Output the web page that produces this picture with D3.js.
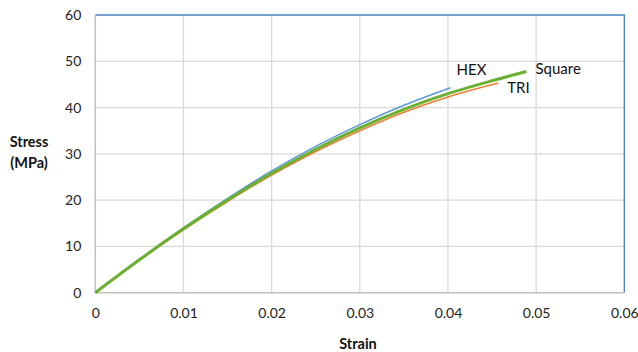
<!DOCTYPE html>
<html><head><meta charset="utf-8">
<script src="https://cdn.jsdelivr.net/npm/d3@7/dist/d3.min.js"></script>
<style>body{margin:0;background:#fff}svg{display:block}</style>
</head><body><svg id="c" width="638" height="352"></svg>
<script>
const xTicks = [0, 0.01, 0.02, 0.03, 0.04, 0.05, 0.06];
const yTicks = [0, 10, 20, 30, 40, 50, 60];
const hexStrain = [0, 0.005, 0.01, 0.015, 0.02, 0.025, 0.03, 0.035, 0.0403];
const hexStress = [0, 7.2, 14.0, 20.4, 26.3, 31.6, 36.3, 40.5, 44.3];
const triStrain = [0, 0.005, 0.01, 0.015, 0.02, 0.025, 0.03, 0.035, 0.04, 0.0457];
const triStress = [0, 7.0, 13.6, 19.7, 25.4, 30.5, 35.0, 39.0, 42.3, 45.3];
const sqStrain = [0, 0.005, 0.01, 0.015, 0.02, 0.025, 0.03, 0.035, 0.04, 0.045, 0.0489];
const sqStress = [0, 7.1, 13.8, 20.0, 25.8, 31.0, 35.6, 39.6, 43.0, 45.8, 47.8];
const seriesNames = ["HEX", "TRI", "Square"];

const svg = d3.select("#c");
const L = 95.3, R = 624.3, T = 15, B = 292.7;
const x = d3.scaleLinear().domain([0, 0.06]).range([L, R]);
const y = d3.scaleLinear().domain([0, 60]).range([B, T]);
const font = "Lato, 'Open Sans', sans-serif";

// gridlines
svg.append("g").selectAll("line").data(xTicks.slice(1, -1)).join("line")
  .attr("x1", d => x(d)).attr("x2", d => x(d)).attr("y1", T).attr("y2", B)
  .attr("stroke", "#d9d9d9").attr("stroke-width", 1.3);
svg.append("g").selectAll("line").data(yTicks.slice(1, -1)).join("line")
  .attr("x1", L).attr("x2", R).attr("y1", d => y(d)).attr("y2", d => y(d))
  .attr("stroke", "#d9d9d9").attr("stroke-width", 1.3);
// border top & right (blue)
svg.append("path").attr("d", `M${L},${T}H${R}V${B}`).attr("fill", "none")
  .attr("stroke", "#4a7fc0").attr("stroke-width", 1.3);
// left & bottom axes
svg.append("path").attr("d", `M${L},${T}V${B}H${R}`).attr("fill", "none")
  .attr("stroke", "#bfbfbf").attr("stroke-width", 1.5);

// tick labels
const yAxis = d3.axisLeft(y).tickValues(yTicks).tickSize(0).tickPadding(14).tickFormat(d3.format("d"));
const gy = svg.append("g").attr("transform", `translate(${L},0)`).call(yAxis);
gy.select(".domain").remove();
gy.selectAll("text").attr("font-family", font).attr("font-size", 14).attr("fill", "#222");
const xAxis = d3.axisBottom(x).tickValues(xTicks).tickSize(0).tickPadding(15).tickFormat(d => d === 0 ? "0" : d3.format(".2f")(d));
const gx = svg.append("g").attr("transform", `translate(0,${B})`).call(xAxis);
gx.select(".domain").remove();
gx.selectAll("text").attr("font-family", font).attr("font-size", 14).attr("fill", "#222");

// lines
const line = d3.line().x(d => x(d[0])).y(d => y(d[1])).curve(d3.curveMonotoneX);
const data = {
  HEX: hexStrain.map((s, i) => [s, hexStress[i]]),
  TRI: triStrain.map((s, i) => [s, triStress[i]]),
  Square: sqStrain.map((s, i) => [s, sqStress[i]])
};
const styles = {
  HEX: {c: "#5b9bd5", w: 1.5},
  TRI: {c: "#ed7d31", w: 1.5},
  Square: {c: "#6cb033", w: 3}
};
seriesNames.forEach(n => {
  svg.append("path").datum(data[n]).attr("d", line).attr("fill", "none")
    .attr("stroke", styles[n].c).attr("stroke-width", styles[n].w);
});

// series labels
const lab = [
  {t: "HEX", s: hexStrain, v: hexStress, dx: 6, dy: -13},
  {t: "Square", s: sqStrain, v: sqStress, dx: 9, dy: 3},
  {t: "TRI", s: triStrain, v: triStress, dx: 9, dy: 10}
];
lab.forEach(l => {
  const n = l.s.length - 1;
  svg.append("text").attr("x", x(l.s[n]) + l.dx).attr("y", y(l.v[n]) + l.dy)
    .attr("font-family", font).attr("font-size", 15).attr("fill", "#111").text(l.t);
});

// axis titles
svg.append("text").attr("x", 29).attr("y", 147).attr("text-anchor", "middle")
  .attr("font-family", font).attr("font-weight", "bold").attr("font-size", 14.5).attr("fill", "#111").text("Stress");
svg.append("text").attr("x", 29).attr("y", 168).attr("text-anchor", "middle")
  .attr("font-family", font).attr("font-weight", "bold").attr("font-size", 14.5).attr("fill", "#111").text("(MPa)");
svg.append("text").attr("x", 358).attr("y", 349).attr("text-anchor", "middle")
  .attr("font-family", font).attr("font-weight", "bold").attr("font-size", 14.5).attr("fill", "#111").text("Strain");
</script></body></html>
